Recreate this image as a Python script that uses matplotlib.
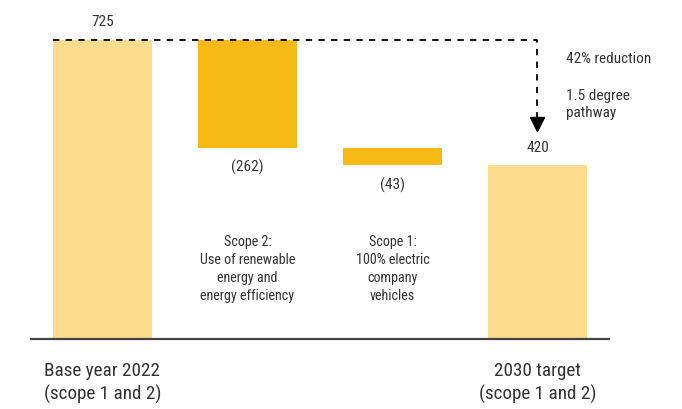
import matplotlib
matplotlib.use("Agg")
import matplotlib.pyplot as plt
from matplotlib import font_manager

# Emissions bridge: base year -> reductions -> 2030 target
steps = ["Base year 2022\n(scope 1 and 2)",
         "Scope 2:\nUse of renewable\nenergy and\nenergy efficiency",
         "Scope 1:\n100% electric\ncompany\nvehicles",
         "2030 target\n(scope 1 and 2)"]
base_value = 725
reductions = [262, 43]
target_value = base_value - sum(reductions)
value_labels = ["725", "(262)", "(43)", "420"]
note_top = "42% reduction"
note_bottom = "1.5 degree\npathway"

names = {f.name for f in font_manager.fontManager.ttflist}
families = [f for f in ["Liberation Sans Narrow", "Roboto Condensed", "Open Sans Condensed"] if f in names]
plt.rcParams["font.family"] = families + ["DejaVu Sans"]

LIGHT = "#FADC8C"
DARK = "#F6B916"
TEXT = "#333333"

fig = plt.figure(figsize=(6.82, 4.10), dpi=100)
ax = fig.add_axes([0, 0, 1, 1])
ax.set_xlim(-0.7069, 3.9966)
ax.set_ylim(-170.9, 823.2)
ax.axis("off")

w = 0.68
# totals
ax.bar(0, base_value, width=w, color=LIGHT, zorder=1)
ax.bar(3, target_value, width=w, color=LIGHT, zorder=1)
# floating reductions
top = base_value
for i, r in enumerate(reductions, start=1):
    ax.bar(i, r, bottom=top - r, width=w, color=DARK, zorder=1)
    top -= r

ax.plot([-0.5, 3.5], [0, 0], color="#444444", lw=1.6, zorder=3,
        solid_capstyle="butt")

# value labels
ax.annotate(value_labels[0], (0, base_value), xytext=(0, 13), textcoords="offset points",
            ha="center", va="center", fontsize=11, color=TEXT)
top = base_value
for i, r in enumerate(reductions, start=1):
    top -= r
    ax.annotate(value_labels[i], (i, top), xytext=(0, -13.5), textcoords="offset points",
                ha="center", va="center", fontsize=11, color=TEXT)
ax.annotate(value_labels[3], (3, target_value), xytext=(0, 13), textcoords="offset points",
            ha="center", va="center", fontsize=11, color=TEXT)

# dashed pathway line with arrow
ax.plot([-w / 2, 3, 3], [base_value, base_value, 528], color="black", lw=1.3,
        linestyle=(0, (3.5, 3.5)), zorder=4)
ax.plot(3, 520, marker="v", color="black", markersize=10, zorder=4)

ax.text(3.2, 680, note_top, ha="left", va="center", fontsize=11, color=TEXT)
ax.text(3.2, 570, note_bottom, ha="left", va="center", fontsize=11, color=TEXT,
        linespacing=1.25)

# step descriptions
for i in (1, 2):
    ax.text(i, 171, steps[i], ha="center", va="center", fontsize=10.2, color=TEXT,
            linespacing=1.35)
for i in (0, 3):
    ax.text(i, -106, steps[i], ha="center", va="center", fontsize=13.8, color=TEXT,
            linespacing=1.35)

fig.savefig("out.png", dpi=100)
